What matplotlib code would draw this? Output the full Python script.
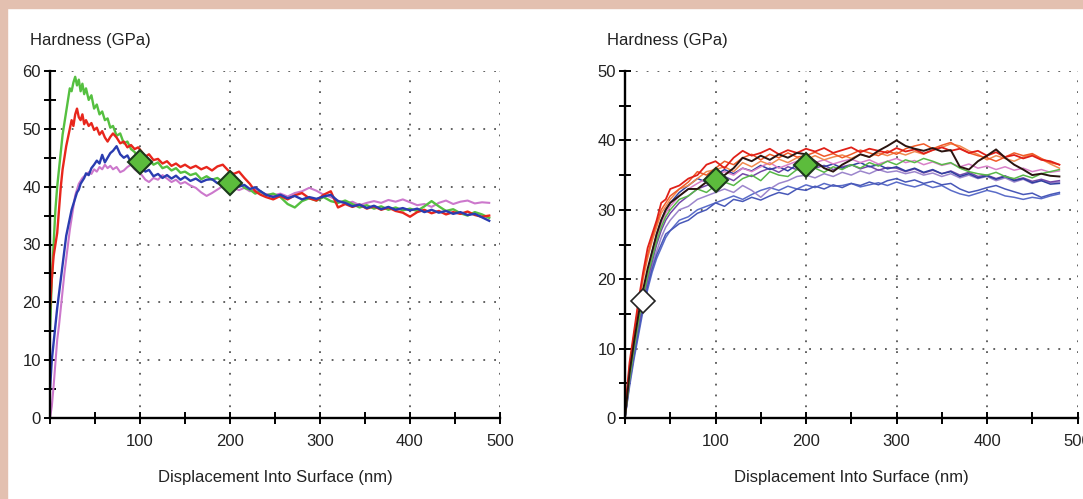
import matplotlib
matplotlib.use("Agg")
import matplotlib.pyplot as plt
from matplotlib.patches import Rectangle
from matplotlib.ticker import MultipleLocator

plt.rcParams['font.family'] = ['Liberation Sans', 'DejaVu Sans']

# ---- left panel: displacement (nm) and hardness (GPa) ----
xl = [0, 2, 4, 6, 8, 10, 12, 14, 16, 18, 20, 22, 24, 26, 28, 30, 32, 34, 36, 38, 40,
      43, 46, 49, 52, 55, 58, 61, 64, 67, 70,
      74, 78, 82, 86, 90, 94, 98, 102, 106, 110,
      115, 120, 125, 130, 135, 140, 145, 150,
      156, 162, 168, 174, 180, 186, 192, 198, 204, 210, 216, 222, 228, 234, 240,
      248, 256, 264, 272, 280, 288, 296, 304, 312, 320, 328, 336, 344, 352, 360, 368,
      376, 384, 392, 400, 408, 416, 424, 432, 440, 448, 456, 464, 472, 480, 488]

l_green = [15, 24, 30, 36, 40, 43, 46, 49, 51, 53, 55, 57, 56.5, 58, 59, 57.5, 58.5, 56.5, 57.8, 56, 57,
           55, 55.8, 53.5, 54.2, 52.5, 53, 51.5, 51.8, 50.2, 50.5,
           48.8, 49.2, 47.5, 47.8, 46.5, 46, 45, 45.3, 44.2, 44.6,
           43.8, 44.2, 43.2, 43.5, 42.8, 43.2, 42.4, 42.6,
           42, 42.3, 41.3, 41.8, 41.2, 41.5, 40.8, 41, 40.5, 40.8, 39.8, 39.5, 38.8, 39.2, 38.5,
           38.8, 38.2, 37, 36.4, 37.5, 38, 37.6, 38.2, 37.5, 37.2,
           37.6, 37, 36.4, 36.8, 36.2, 36.6, 36, 36.4, 35.9, 36.2,
           35.8, 36.6, 37.5, 36.6, 35.8, 36.1, 35.4, 35, 35.6, 35.2, 34.6]

l_red = [19, 24, 28, 30, 32, 36, 40, 43, 45, 47, 48.5, 50, 51.5, 50.5, 52.5, 53.5, 52, 51.5, 52.5, 50.8, 51.5,
         50.5, 51, 49.8, 50.2, 49, 49.6, 48.5, 47.8, 48.6, 49.2,
         48.5, 47.5, 47.8, 46.8, 47.2, 46.5, 46.8, 46, 45.2, 45.6,
         44.6, 44.8, 44, 44.4, 43.6, 44, 43.4, 43.8,
         43.2, 43.6, 43, 43.4, 42.8, 43.5, 43.8, 42.8, 42.2, 42.6, 41.5, 40.5, 39.2, 38.6, 38.2,
         37.8, 38.4, 37.8, 38.5, 38.9, 38, 37.6, 38.6, 39.2, 36.4,
         37, 36.5, 36.9, 36.2, 36.6, 36, 36.4, 35.8, 35.5, 34.8,
         35.6, 36, 35.4, 35.8, 35.2, 35.6, 35.3, 35.7, 35.1, 34.8, 35]

l_blue = [5, 10, 13, 16, 19, 21.5, 24, 26.5, 29, 31.5, 33, 34.5, 36, 37, 38, 39, 39.5, 40.5, 41, 41.5, 42.3,
          42, 43.2, 43.8, 44.5, 44, 45.5, 44.2, 45, 45.8, 46.2,
          47, 45.6, 45, 45.4, 44.2, 44.6, 43.6, 43.2, 42.6, 42.9,
          41.8, 42.2, 41.5, 42, 41.4, 41.9, 41.2, 41.7,
          41, 41.4, 40.8, 41.2, 41.3, 40.6, 41, 40.4, 40.7, 40, 40.3, 39.6, 39.9, 39.2, 38.6,
          38.2, 38.6, 38, 38.4, 37.8, 38.2, 37.9, 38.3, 38.6, 37.5,
          37.2, 36.6, 36.9, 36.3, 36.7, 36.1, 36.5, 36, 36.3, 35.9,
          36.2, 35.6, 36, 35.5, 35.8, 35.3, 35.6, 35.1, 35.3, 34.7, 34.1]

l_pink = [0, 2, 5.5, 9.5, 13.5, 16, 19, 22, 25, 27.5, 30, 32.5, 34.5, 36.5, 38.5, 39.5, 40.5, 41, 41.5, 41.8, 42,
          42.5, 42.2, 43, 42.6, 43.4, 43, 43.8, 43.2, 43.6, 43,
          43.4, 42.5, 42.8, 43.4, 43.8, 43, 42.5, 42, 41.2, 40.8,
          41.5, 41.2, 42, 41.4, 40.8, 41.2, 40.5, 40.8,
          40.2, 39.8, 39, 38.4, 38.9, 39.5, 40.1, 40.3, 39.8, 39.4, 39.8, 39.2, 39.5, 39, 38.7,
          38.5, 38.8, 38.3, 38.9, 39.2, 39.8, 39.3, 38.6, 38.2, 37.6,
          37, 37.4, 36.8, 37.2, 37.5, 37.2, 37.7, 37.4, 37.8, 37.3,
          36.8, 37, 36.5, 37.2, 37.6, 37, 37.4, 37.6, 37.1, 37.3, 37.2]

l_mark_x = [100, 200]
l_mark_y = [44.3, 40.7]

# ---- right panel ----
xr = [0, 5, 10, 15, 20, 25, 30, 35, 40, 45, 50,
      60, 70, 80, 90, 100, 110, 120, 130, 140, 150, 160, 170, 180, 190, 200,
      210, 220, 230, 240, 250, 260, 270, 280, 290, 300, 310, 320, 330, 340, 350,
      360, 370, 380, 390, 400, 410, 420, 430, 440, 450, 460, 470, 480]

r_red = [1, 8, 12.5, 17, 21, 24.5, 26.5, 28.5, 31, 31.5, 33, 33.5, 34.5, 35, 36.5, 37, 36, 37.5, 38.5, 37.8,
         38.2, 38.8, 38, 38.6, 38.2, 38.8, 38.4, 38.9, 38.2, 38.6, 39, 38.3, 38.8, 38.5, 38.2, 38.9, 38.4, 38.7,
         38.1, 38.6, 39, 38.5, 38.8, 38.2, 38.5, 37.8, 38.3, 37.6, 37.9, 37.4, 37.8, 37.2, 37, 36.5]
r_orange = [0.5, 7, 12, 16.5, 20.5, 23.5, 26, 28, 30, 31, 32, 33, 34, 35.5, 35, 36, 37, 36.5, 37.5, 38,
            37.2, 38, 37.5, 38.2, 37.6, 37.8, 38.3, 37.7, 38.1, 37.5, 38, 38.6, 38.2, 37.8, 38.5, 38, 38.8, 39.2,
            39.5, 38.8, 39.3, 39.7, 38.9, 38.2, 37.8, 37.5, 37, 37.6, 38.2, 37.8, 38.1, 37.4, 36.8, 36.5]
r_orange2 = [0.5, 7.5, 12, 16, 20, 23, 25.5, 27.5, 29.5, 30.5, 31.5, 33, 33.5, 34.5, 35.5, 35.8, 36.2, 35.5,
             36.8, 36.2, 37, 36.5, 37.3, 36.8, 37.5, 37.2, 37.8, 37.2, 37.6, 37.9, 37.4, 38, 37.6, 38.2, 37.8,
             38.3, 37.9, 38.4, 38, 38.6, 39, 39.5, 39.2, 38.5, 38, 37.2, 37.8, 37.4, 37, 37.6, 38, 37.3, 36.6, 36]
r_black = [0, 6.5, 11, 15, 18.5, 21.5, 24, 26.5, 28.5, 30, 31, 32, 33, 33, 34, 34.2, 35, 36, 37.5, 37,
           37.8, 37.2, 38, 37.5, 38.2, 38, 37, 36, 35.5, 36.5, 37.2, 38, 37.6, 38.5, 39.2, 40, 39.2, 38.8,
           38.5, 38.9, 38.4, 38.6, 36.2, 35.8, 37, 37.8, 38.7, 37.5, 36.5, 35.8, 35, 35.2, 34.9, 34.8]
r_green = [0, 5.5, 10, 14, 17.5, 20.5, 23, 25.5, 27.5, 29, 30, 31.5, 32, 33, 32.5, 33.5, 34, 33.5, 34.5, 35,
           34.2, 35.5, 35, 34.8, 35.8, 35.5, 36, 35.4, 36.2, 35.8, 36.5, 36, 36.8, 36.3, 37, 36.5, 37.2, 36.8,
           37.4, 37, 36.5, 36.8, 36, 35.5, 35.2, 35, 35.4, 34.8, 34.5, 35, 34.6, 35.2, 35.5, 35.8]
r_pink = [0, 6, 10.5, 14.5, 18, 21, 23.5, 26, 28, 29.5, 30.5, 32, 33, 33.8, 34.5, 35, 35.5, 35, 36, 35.5,
          36.2, 36.8, 36, 36.5, 37, 36.4, 36.8, 37.2, 36.6, 37, 37.3, 36.8, 37.2, 36.6, 37, 37.4, 36.8, 37.1,
          36.5, 36.9, 36.4, 36.7, 36.2, 36.6, 36, 36.3, 35.8, 36.2, 35.7, 36, 35.5, 35.8, 35.4, 35.6]
r_purple = [0, 5.5, 10, 13.5, 17, 20, 22.5, 25, 27, 28.5, 29.5, 31, 32, 33, 33.5, 34, 34.8, 34.2, 35.2, 34.8,
            35.5, 36, 35.4, 36.2, 35.8, 36.5, 36, 36.4, 35.8, 36.2, 36.5, 35.9, 36.3, 35.7, 36.1, 36, 35.5,
            35.9, 35.3, 35.7, 35.2, 35.6, 35, 35.4, 34.8, 35, 34.5, 34.9, 34.3, 34.6, 34.1, 34.4, 34, 34.2]
r_blue1 = [0, 5, 9, 12.5, 16, 19, 21.5, 23.5, 25, 26.5, 27, 28, 28.5, 29.5, 30, 31, 30.5, 31.5, 31.2, 31.8,
           31.4, 32, 32.5, 32.2, 33, 32.8, 33.4, 33, 33.6, 33.2, 33.8, 33.5, 34, 33.6, 34.2, 34.5, 34, 34.3,
           33.8, 34.1, 33.6, 33.8, 33, 32.5, 32.8, 33.2, 33.5, 33, 32.6, 32.2, 32.4, 31.8, 32.2, 32.5]
r_blue2 = [0, 4.5, 8.5, 12, 15.5, 18.5, 21, 23, 24.5, 26, 27, 28.5, 29, 30, 30.5, 31, 31.5, 32, 31.5, 32.2,
           32.8, 33.2, 32.8, 33.4, 33, 33.6, 33.2, 33.8, 33.4, 33.5, 33.8, 33.3, 33.6, 33.9, 33.5, 34, 33.6,
           33.3, 33.7, 33.2, 33.5, 32.8, 32.3, 32, 32.4, 32.8, 32.5, 32, 31.8, 31.5, 31.8, 31.6, 32, 32.3]
r_violet = [0, 5, 9.5, 13, 16.5, 19.5, 22, 24, 26, 27.5, 28.5, 30, 30.5, 31.5, 32, 32.5, 33, 32.5, 33.5, 32.8,
            31.8, 33, 33.8, 34.2, 34.8, 35, 34.6, 35.2, 34.8, 35.4, 35, 35.6, 35.2, 35.8, 35.4, 35.6, 35.2,
            35.5, 35, 35.3, 34.8, 35.2, 34.6, 35, 34.5, 34.8, 34.2, 34.6, 34, 34.4, 33.8, 34.2, 33.9, 34]
r_navy = [0, 6, 10.5, 14.5, 18, 21, 24, 26.5, 28.5, 30, 31, 32.5, 33.5, 34.5, 34, 35, 35.8, 35.2, 36, 35.6,
          36.4, 35.8, 36.2, 35.6, 36.5, 36, 36.8, 36.2, 36.6, 36, 36.4, 36.8, 36.2, 36.5, 35.9, 36.2, 35.6, 36,
          35.4, 35.8, 35.2, 35.5, 34.8, 35.2, 34.6, 34.9, 34.4, 34.8, 34.2, 34.5, 33.9, 34.2, 33.7, 33.8]

r_mark_x = [100, 200]
r_mark_y = [34.3, 36.4]
r_open_x = [19.5]
r_open_y = [16.8]


def style_axes(ax, ymax):
    ax.set_xlim(0, 500)
    ax.set_ylim(0, ymax)
    ax.set_xticks(range(0, 501, 100))
    ax.set_xticklabels([''] + [str(v) for v in range(100, 501, 100)])
    ax.xaxis.set_minor_locator(MultipleLocator(50))
    ax.set_yticks(range(0, ymax + 1, 10))
    ax.yaxis.set_minor_locator(MultipleLocator(5))
    ax.tick_params(which='both', direction='inout', length=9, width=1.4, colors='black',
                   labelcolor='#222222', labelsize=12)
    ax.tick_params(axis='x', pad=7)
    ax.tick_params(axis='y', pad=2)
    ax.grid(True, which='major', color='#555555', linestyle=(0, (1, 5)), linewidth=1.3)
    ax.spines['top'].set_visible(False)
    ax.spines['right'].set_visible(False)
    ax.spines['left'].set_linewidth(1.7)
    ax.spines['bottom'].set_linewidth(1.7)
    ax.set_xlabel('Displacement Into Surface (nm)', fontsize=12, color='#222222')
    ax.xaxis.set_label_coords(0.5, -0.15)


fig = plt.figure(figsize=(10.83, 4.99), dpi=100)
fig.patch.set_facecolor('white')

# pink frame of the page
fig.patches.append(Rectangle((0, 1 - 8 / 499), 1, 8 / 499, transform=fig.transFigure,
                             color='#e3c0b0', zorder=0))
fig.patches.append(Rectangle((0, 0), 7 / 1083, 1, transform=fig.transFigure,
                             color='#e3c0b0', zorder=0))

ax1 = fig.add_axes([50 / 1083, 81 / 499, 450 / 1083, 347 / 499])
ax2 = fig.add_axes([625 / 1083, 81 / 499, 452.5 / 1083, 347 / 499])

ax1.plot(xl, l_pink, color='#cc78cc', lw=1.5)
ax1.plot(xl, l_green, color='#55c040', lw=1.7)
ax1.plot(xl, l_red, color='#e8261c', lw=1.7)
ax1.plot(xl, l_blue, color='#2a3cb0', lw=1.7)
ax1.plot(l_mark_x, l_mark_y, linestyle='none', marker='D', ms=12, mfc='#5cbc3c',
         mec='#1c3a1c', mew=1.5, zorder=5)
style_axes(ax1, 60)

ax2.plot(xr, r_blue2, color='#5a6cc8', lw=1.1)
ax2.plot(xr, r_violet, color='#9c86cc', lw=1.1)
ax2.plot(xr, r_blue1, color='#4858b8', lw=1.1)
ax2.plot(xr, r_purple, color='#7448a8', lw=1.1)
ax2.plot(xr, r_navy, color='#3040a0', lw=1.1)
ax2.plot(xr, r_pink, color='#d880c8', lw=1.1)
ax2.plot(xr, r_green, color='#58b848', lw=1.1)
ax2.plot(xr, r_orange2, color='#f08a50', lw=1.1)
ax2.plot(xr, r_orange, color='#f05a28', lw=1.1)
ax2.plot(xr, r_red, color='#e02018', lw=1.3)
ax2.plot(xr, r_black, color='#2a1410', lw=1.4)
ax2.plot(r_mark_x, r_mark_y, linestyle='none', marker='D', ms=12, mfc='#5cbc3c',
         mec='#1c3a1c', mew=1.5, zorder=5)
ax2.plot(r_open_x, r_open_y, linestyle='none', marker='D', ms=12, mfc='white',
         mec='#222222', mew=1.2, zorder=5)
style_axes(ax2, 50)

fig.text(30 / 1083, 1 - 40 / 499, 'Hardness (GPa)', fontsize=12, color='#222222',
         ha='left', va='center')
fig.text(607 / 1083, 1 - 40 / 499, 'Hardness (GPa)', fontsize=12, color='#222222',
         ha='left', va='center')

fig.savefig('out.png', dpi=100, facecolor=fig.get_facecolor())
